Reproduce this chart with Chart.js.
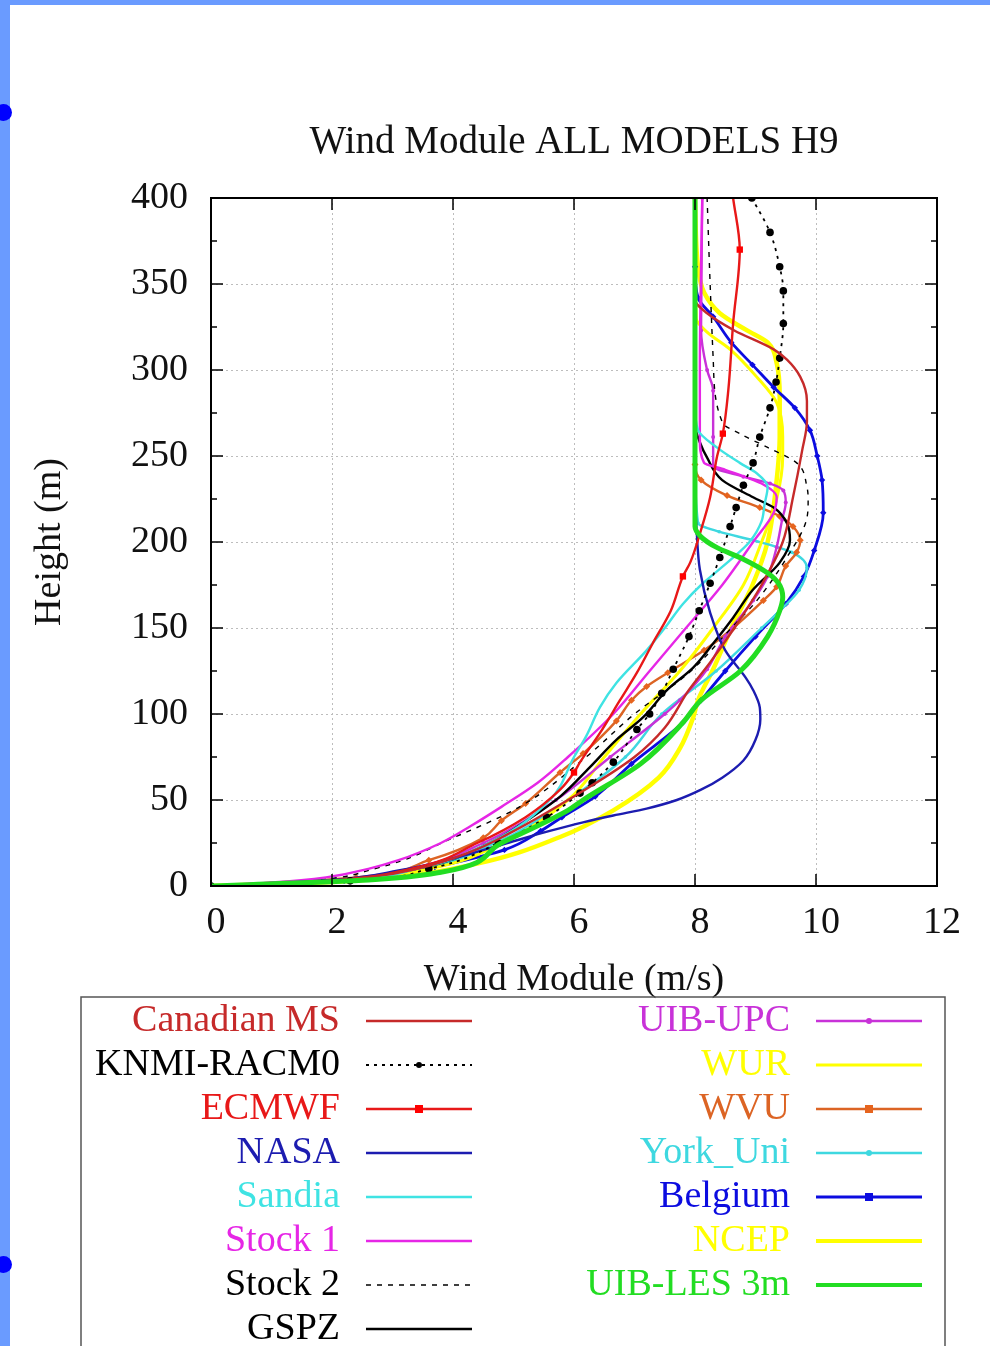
<!DOCTYPE html>
<html>
<head>
<meta charset="utf-8">
<script src="https://cdn.jsdelivr.net/npm/chart.js@4.4.1/dist/chart.umd.min.js"></script>
<style>
  html, body { margin: 0; padding: 0; background: #fff; }
  #wrap { position: relative; width: 990px; height: 1346px; overflow: hidden; }
  #c { position: absolute; left: 0; top: 0; }
  .edge { position: absolute; background: #6a9bff; }
  .dot { position: absolute; width: 17px; height: 17px; border-radius: 50%; background: #0000ff; }
</style>
</head>
<body>
<div id="wrap">
  <canvas id="c" width="990" height="1346"></canvas>
  <div class="edge" style="left:0;top:0;width:10px;height:1346px"></div>
  <div class="edge" style="left:0;top:0;width:990px;height:5px"></div>
  <div class="dot" style="left:-5px;top:104px"></div>
  <div class="dot" style="left:-5px;top:1256px"></div>
</div>
<script>
// heights (m) and wind module (m/s) for each model
const hCan  = [0, 2, 5, 10, 20, 30, 50, 75, 92, 114, 130, 150, 175, 200, 226, 253, 270, 282, 296, 306, 312, 323, 333, 341, 360, 400];
const vCan  = [0, 1.6, 2.6, 3.4, 4.3, 4.9, 5.9, 7.0, 7.5, 7.9, 8.25, 8.65, 9.1, 9.45, 9.62, 9.77, 9.85, 9.85, 9.74, 9.52, 9.3, 8.65, 8.2, 8.0, 8.0, 8.0];

const hKnmi = [0, 3, 10, 25, 40, 54, 60, 72, 91, 100, 112, 126, 145, 160, 176, 191, 209, 220, 233, 246, 261, 278, 293, 307, 327, 346, 360, 380, 400];
const vKnmi = [0, 2.3, 3.6, 4.75, 5.55, 6.1, 6.3, 6.65, 7.04, 7.25, 7.45, 7.64, 7.9, 8.07, 8.25, 8.41, 8.58, 8.68, 8.8, 8.96, 9.07, 9.24, 9.34, 9.4, 9.46, 9.46, 9.4, 9.24, 8.94];

const hEcm  = [0, 3, 10, 25, 40, 56, 66, 72, 89, 108, 124, 141, 160, 180, 188, 207, 226, 249, 263, 288, 327, 370, 400];
const vEcm  = [0, 1.9, 3.3, 4.4, 5.2, 5.77, 6.0, 6.1, 6.43, 6.76, 7.04, 7.3, 7.6, 7.8, 7.92, 8.1, 8.25, 8.36, 8.46, 8.55, 8.63, 8.74, 8.63];

const hNasa = [0, 3.5, 9, 16, 25, 32, 37, 41, 45, 50, 56, 63, 73, 85, 97, 104, 114, 121, 137, 159, 184, 205, 230, 300, 400];
const vNasa = [0, 2.0, 3.1, 4.0, 4.9, 5.6, 6.15, 6.65, 7.2, 7.7, 8.1, 8.45, 8.8, 9.0, 9.08, 9.07, 8.96, 8.84, 8.5, 8.25, 8.08, 8.03, 8.0, 8.0, 8.0];

const hSan  = [0, 3, 10, 25, 50, 75, 87, 104, 118, 137, 150, 164, 175, 190, 200, 212, 222, 232, 240, 246, 255, 265, 280, 400];
const vSan  = [0, 2.1, 3.4, 4.6, 5.6, 6.0, 6.2, 6.43, 6.7, 7.2, 7.5, 7.8, 8.1, 8.6, 8.9, 9.1, 9.15, 9.2, 9.02, 8.74, 8.36, 8.05, 8.0, 8.0];

const hSt1  = [0, 2, 5, 10, 15, 25, 35, 46, 60, 75, 100, 125, 150, 175, 200, 217, 226, 234, 242, 246, 260, 300, 400];
const vSt1  = [0, 1.0, 1.9, 2.6, 3.1, 3.8, 4.3, 4.8, 5.4, 5.9, 6.65, 7.25, 7.85, 8.45, 8.96, 9.3, 9.35, 9.1, 8.5, 8.15, 8.08, 8.08, 8.12];

const hSt2  = [0, 3, 10, 28, 46, 75, 100, 124, 150, 165, 190, 214, 224, 232, 246, 255, 263, 269, 307, 350, 400];
const vSt2  = [0, 1.6, 2.7, 4.0, 5.1, 6.2, 7.0, 7.9, 8.6, 9.0, 9.5, 9.85, 9.87, 9.85, 9.68, 9.2, 8.74, 8.46, 8.3, 8.25, 8.2];

const hGspz = [0, 3, 10, 25, 40, 52, 69, 85, 98, 114, 127, 141, 156, 172, 188, 201, 211, 220, 226, 236, 249, 258, 268, 400];
const vGspz = [0, 2.0, 3.4, 4.6, 5.3, 5.77, 6.26, 6.7, 7.14, 7.54, 7.97, 8.3, 8.63, 8.95, 9.4, 9.57, 9.52, 9.3, 8.96, 8.45, 8.2, 8.08, 8.0, 8.0];

const hUpc  = [0, 3, 10, 25, 50, 75, 100, 108, 126, 145, 166, 180, 197, 213, 223, 230, 234, 238, 244, 261, 288, 300, 323, 400];
const vUpc  = [0, 2.0, 3.3, 4.5, 5.7, 6.6, 7.5, 7.75, 8.2, 8.5, 8.96, 9.2, 9.35, 9.44, 9.5, 9.46, 9.24, 8.8, 8.3, 8.3, 8.3, 8.2, 8.1, 8.12];

const hWur  = [0, 3, 10, 25, 50, 75, 100, 125, 150, 175, 200, 225, 250, 261, 281, 296, 312, 322, 330, 400];
const vWur  = [0, 2.1, 3.6, 4.8, 5.9, 6.5, 7.1, 7.75, 8.3, 8.8, 9.1, 9.35, 9.45, 9.45, 9.35, 9.02, 8.58, 8.2, 8.02, 8.0];

const hWvu  = [0, 5, 15, 28, 38, 48, 66, 77, 96, 108, 116, 124, 137, 150, 166, 174, 186, 194, 201, 209, 215, 220, 227, 236, 245, 400];
const vWvu  = [0, 2.4, 3.6, 4.5, 4.8, 5.2, 5.77, 6.15, 6.7, 6.95, 7.2, 7.55, 8.15, 8.63, 9.13, 9.35, 9.5, 9.68, 9.74, 9.62, 9.4, 9.07, 8.53, 8.1, 8.0, 8.0];

const hYork = [0, 3, 10, 25, 50, 75, 100, 125, 150, 160, 172, 185, 194, 201, 206, 211, 250, 400];
const vYork = [0, 2.2, 3.5, 4.7, 5.9, 6.85, 7.45, 8.35, 9.1, 9.4, 9.72, 9.85, 9.6, 8.96, 8.4, 8.05, 8.0, 8.0];

const hBel  = [0, 3, 6, 11, 21, 32, 40, 52, 71, 95, 108, 125, 145, 164, 180, 195, 217, 236, 250, 265, 278, 290, 303, 316, 331, 342, 360, 400];
const vBel  = [0, 2.2, 3.0, 3.7, 4.85, 5.45, 5.8, 6.35, 6.95, 7.8, 8.1, 8.5, 9.0, 9.5, 9.8, 9.97, 10.12, 10.1, 10.02, 9.9, 9.65, 9.3, 8.95, 8.6, 8.3, 8.05, 8.0, 8.0];

const hNcep = [0, 2, 5, 13, 28.5, 44, 63, 80, 98, 108, 126, 150, 175, 200, 236, 261, 284, 304, 316, 323, 333, 345, 360, 400];
const vNcep = [0, 1.8, 3.0, 4.4, 5.77, 6.65, 7.4, 7.75, 7.97, 8.05, 8.3, 8.6, 8.95, 9.2, 9.35, 9.4, 9.4, 9.35, 9.2, 8.86, 8.41, 8.15, 8.05, 8.0];

const hLes  = [0, 3.5, 8, 25, 44, 50, 71, 95, 108, 125, 145, 160, 168, 176, 182, 190, 197, 203, 209, 250, 400];
const vLes  = [0, 2.6, 3.8, 4.8, 5.9, 6.15, 7.1, 7.8, 8.1, 8.75, 9.2, 9.4, 9.45, 9.38, 9.2, 8.8, 8.35, 8.1, 8.0, 8.0, 8.0];

const xTicks = [0, 2, 4, 6, 8, 10, 12];
const yTicks = [0, 50, 100, 150, 200, 250, 300, 350, 400];
const titleText = 'Wind Module ALL MODELS H9';

function pts(h, v) {
  return h.map((y, i) => ({ x: v[i], y: y }));
}

const ecmMarks = [6, 13, 18, 21];

const datasets = [
  { label: 'Canadian MS', data: pts(hCan, vCan), borderColor: '#c62a2a', borderWidth: 2.4 },
  { label: 'KNMI-RACM0', data: pts(hKnmi, vKnmi), borderColor: '#000000', borderWidth: 1.8, borderDash: [3, 5],
    pointRadius: 3.8, pointBackgroundColor: '#000', mark: 'circle' },
  { label: 'ECMWF', data: pts(hEcm, vEcm), borderColor: '#e81818', borderWidth: 2.4,
    pointRadius: c => ecmMarks.includes(c.dataIndex) ? 4.5 : 0, pointStyle: 'rect', pointBackgroundColor: '#ff0000', mark: 'rect' },
  { label: 'NASA', data: pts(hNasa, vNasa), borderColor: '#1c1cb0', borderWidth: 2.4 },
  { label: 'Sandia', data: pts(hSan, vSan), borderColor: '#3fe3e3', borderWidth: 2.4 },
  { label: 'Stock 1', data: pts(hSt1, vSt1), borderColor: '#e626e6', borderWidth: 2.4 },
  { label: 'Stock 2', data: pts(hSt2, vSt2), borderColor: '#000000', borderWidth: 1.4, borderDash: [5, 6] },
  { label: 'GSPZ', data: pts(hGspz, vGspz), borderColor: '#000000', borderWidth: 2.4 },
  { label: 'UIB-UPC', data: pts(hUpc, vUpc), borderColor: '#c832d8', borderWidth: 2.4,
    pointRadius: 2, pointBackgroundColor: '#c832d8', mark: 'circle' },
  { label: 'WUR', data: pts(hWur, vWur), borderColor: '#ffff00', borderWidth: 3 },
  { label: 'WVU', data: pts(hWvu, vWvu), borderColor: '#dc6424', borderWidth: 2.4,
    pointRadius: 3.5, pointStyle: 'rectRot', pointBackgroundColor: '#e6641e', mark: 'rect' },
  { label: 'York_Uni', data: pts(hYork, vYork), borderColor: '#3ed8e0', borderWidth: 2.4,
    pointRadius: 1.8, pointBackgroundColor: '#3ed8e0', mark: 'circle' },
  { label: 'Belgium', data: pts(hBel, vBel), borderColor: '#0c0ce0', borderWidth: 2.8,
    pointRadius: 3.2, pointStyle: 'rectRot', pointBackgroundColor: '#0c0ce0', mark: 'rect' },
  { label: 'NCEP', data: pts(hNcep, vNcep), borderColor: '#ffff00', borderWidth: 4.5 },
  { label: 'UIB-LES 3m', data: pts(hLes, vLes), borderColor: '#22dd22', borderWidth: 5, order: -1 }
];
datasets.forEach(d => {
  d.cubicInterpolationMode = 'monotone';
  d.fill = false;
  if (d.pointRadius === undefined) d.pointRadius = 0;
  d.pointBorderWidth = 0;
  d.pointBorderColor = d.pointBackgroundColor || d.borderColor;
});

const frame = {
  id: 'frame',
  afterDatasetsDraw(chart) {
    const { ctx, chartArea: a, scales: { x, y } } = chart;
    ctx.save();
    ctx.strokeStyle = '#000';
    ctx.lineWidth = 1.5;
    ctx.beginPath();
    for (let v = 0; v <= 400; v += 25) {
      const py = y.getPixelForValue(v);
      const len = v % 50 ? 6 : 12;
      ctx.moveTo(a.left, py); ctx.lineTo(a.left + len, py);
      ctx.moveTo(a.right, py); ctx.lineTo(a.right - len, py);
    }
    xTicks.forEach(v => {
      const px = x.getPixelForValue(v);
      ctx.moveTo(px, a.bottom); ctx.lineTo(px, a.bottom - 12);
      ctx.moveTo(px, a.top); ctx.lineTo(px, a.top + 12);
    });
    ctx.stroke();
    ctx.lineWidth = 2;
    ctx.strokeRect(a.left, a.top, a.right - a.left, a.bottom - a.top);
    ctx.font = '39px "Liberation Serif", serif';
    ctx.fillStyle = '#111';
    ctx.textAlign = 'center';
    ctx.textBaseline = 'middle';
    ctx.fillText(titleText, (a.left + a.right) / 2, 143);
    ctx.restore();
  }
};

const legendBox = {
  id: 'legendBox',
  afterDraw(chart) {
    const ctx = chart.ctx;
    ctx.save();
    ctx.strokeStyle = '#555';
    ctx.lineWidth = 1.5;
    ctx.strokeRect(81, 997, 864, 420);
    ctx.font = '38px "Liberation Serif", serif';
    ctx.textAlign = 'right';
    ctx.textBaseline = 'middle';
    chart.data.datasets.forEach((ds, i) => {
      const col = i < 8 ? 0 : 1;
      const row = col ? i - 8 : i;
      const yy = 1021 + row * 44;
      const tx = col ? 790 : 340;
      const x0 = col ? 816 : 366;
      ctx.fillStyle = ds.borderColor;
      ctx.fillText(ds.label, tx, yy);
      ctx.strokeStyle = ds.borderColor;
      ctx.lineWidth = Math.min(ds.borderWidth, 4);
      ctx.setLineDash(ds.borderDash || []);
      ctx.beginPath();
      ctx.moveTo(x0, yy); ctx.lineTo(x0 + 106, yy);
      ctx.stroke();
      ctx.setLineDash([]);
      if (ds.mark) {
        ctx.fillStyle = ds.pointBackgroundColor;
        if (ds.mark === 'rect') ctx.fillRect(x0 + 49, yy - 4, 8, 8);
        else { ctx.beginPath(); ctx.arc(x0 + 53, yy, 3, 0, Math.PI * 2); ctx.fill(); }
      }
    });
    ctx.restore();
  }
};

Chart.defaults.font.family = '"Liberation Serif", serif';
Chart.defaults.font.size = 38;
Chart.defaults.color = '#111';

new Chart(document.getElementById('c'), {
  type: 'line',
  data: { datasets: datasets },
  plugins: [frame, legendBox],
  options: {
    indexAxis: 'y',
    responsive: false,
    animation: false,
    events: [],
    layout: { padding: { left: 20, right: 53, top: 198, bottom: 343 } },
    plugins: { legend: { display: false }, tooltip: { enabled: false }, title: { display: false } },
    scales: {
      x: {
        type: 'linear', min: 0, max: 12,
        afterBuildTicks: s => { s.ticks = xTicks.map(v => ({ value: v })); },
        afterFit: s => { s.height = 117; },
        ticks: { padding: 14, labelOffset: 5, color: '#111' },
        grid: { color: '#bdbdbd', lineWidth: 1, drawTicks: false },
        border: { display: false, dash: [2, 3] },
        title: { display: true, text: 'Wind Module (m/s)', padding: { top: 0, bottom: 0 }, color: '#111' }
      },
      y: {
        type: 'linear', min: 0, max: 400,
        afterBuildTicks: s => { s.ticks = yTicks.map(v => ({ value: v })); },
        afterFit: s => { s.width = 191; },
        ticks: { padding: 23, color: '#111' },
        grid: { color: '#bdbdbd', lineWidth: 1, drawTicks: false },
        border: { display: false, dash: [2, 3] },
        title: { display: true, text: 'Height (m)', padding: { top: 7, bottom: 0 }, color: '#111' }
      }
    }
  }
});
</script>
</body>
</html>
